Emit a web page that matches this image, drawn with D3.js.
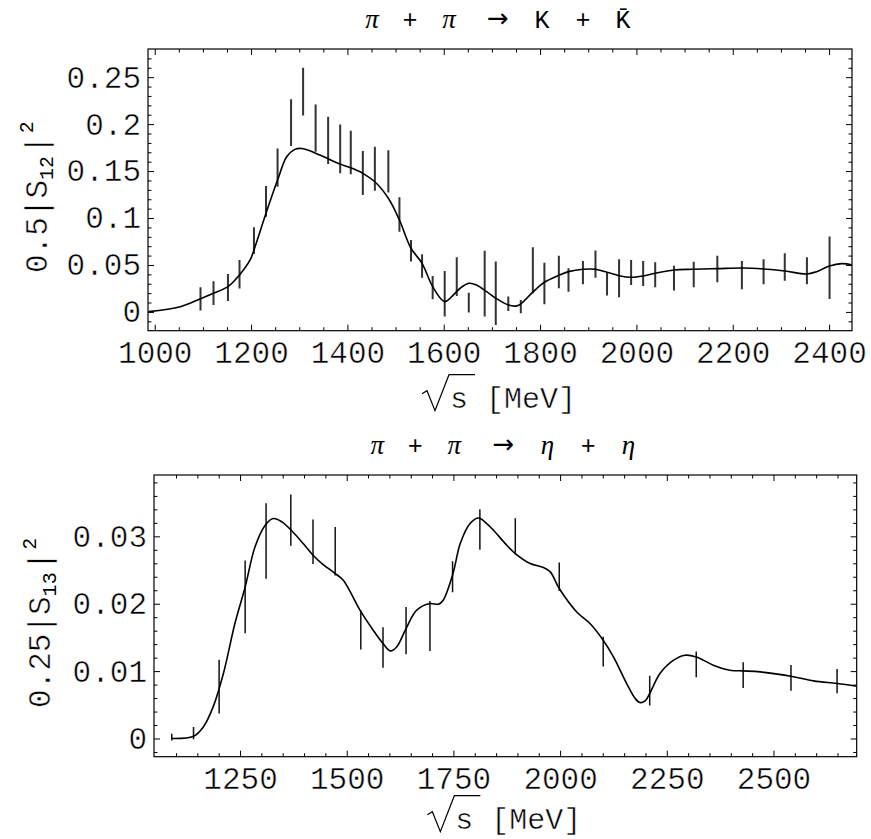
<!DOCTYPE html>
<html><head><meta charset="utf-8">
<script src="https://cdn.jsdelivr.net/npm/d3@7"></script>
<style>
body{margin:0;background:#fff}
text{font-family:"Liberation Mono",monospace;fill:#000}
.thin text, text.thin{stroke:#fff;stroke-width:0.5px;paint-order:fill}
tspan.nothin{stroke:none}
</style>
</head><body>
<svg id="c" width="871" height="839" xmlns="http://www.w3.org/2000/svg"></svg>
<script>
// ---------- Panel 1: pi pi -> K Kbar ----------
const kkDataX = [1095,1122,1152,1176,1206,1231,1255,1283,1308,1334,1360,1385,1407,1432,1457,1485,1508,1532,1555,1577,1602,1627,1652,1685,1708,1734,1760,1785,1809,1839,1859,1889,1915,1939,1964,1989,2014,2039,2078,2119,2168,2219,2264,2308,2354,2401];
const kkDataY = [.0138,.0200,.0261,.0401,.0759,.1177,.1537,.2016,.2346,.1957,.1826,.1736,.1697,.1479,.1525,.1498,.1037,.0651,.0489,.0259,.0193,.0376,.0099,.0301,.0199,.0087,.0056,.0444,.0303,.0426,.0340,.0418,.0509,.0298,.0359,.0420,.0410,.0396,.0360,.0399,.0457,.0392,.0428,.0479,.0438,.0470];
const kkDataErr = [.0124,.0126,.0144,.0152,.0142,.0163,.0204,.0250,.0253,.0252,.0252,.0260,.0232,.0234,.0234,.0225,.0183,.0115,.0124,.0124,.0243,.0206,.0106,.0351,.0337,.0076,.0071,.0245,.0221,.0173,.0124,.0124,.0144,.0124,.0202,.0133,.0133,.0133,.0133,.0136,.0142,.0151,.0133,.0146,.0144,.0332];
const kkFitX = [987,1053,1095,1122,1152,1176,1198,1206,1231,1255,1274,1291,1305,1322,1343,1360,1385,1407,1432,1457,1485,1508,1532,1555,1577,1602,1620,1634,1652,1668,1689,1708,1734,1752,1760,1786,1809,1839,1859,1889,1915,1939,1964,1989,2014,2039,2078,2119,2168,2219,2264,2308,2354,2374,2401,2426,2447];
const kkFitY = [.0003,.0056,.0141,.0199,.0269,.0394,.0553,.0660,.1050,.1404,.1652,.1731,.1741,.1716,.1670,.1631,.1574,.1535,.1476,.1386,.1210,.0979,.0678,.0518,.0269,.0110,.0181,.0252,.0305,.0287,.0216,.0146,.0074,.0064,.0085,.0216,.0316,.0390,.0429,.0454,.0454,.0422,.0386,.0369,.0383,.0412,.0447,.0454,.0461,.0468,.0457,.0436,.0404,.0429,.0489,.0514,.0503];
const kkXTicks = [1000,1200,1400,1600,1800,2000,2200,2400];
const kkXTickLabels = ["1000","1200","1400","1600","1800","2000","2200","2400"];
const kkYTicks = [0,0.05,0.1,0.15,0.2,0.25];
const kkYTickLabels = ["0","0.05","0.1","0.15","0.2","0.25"];

// ---------- Panel 2: pi pi -> eta eta ----------
const eeDataX = [1090,1141,1201,1262,1311,1369,1421,1473,1533,1585,1639,1695,1748,1812,1895,1998,2101,2210,2319,2429,2541,2649];
const eeDataY = [.0002,.0008,.0077,.0210,.0293,.0324,.0292,.0278,.0161,.0135,.0160,.0167,.0240,.0310,.0300,.0240,.0129,.0071,.0110,.0094,.0090,.0085];
const eeDataErr = [.0005,.0009,.0040,.0054,.0056,.0038,.0033,.0036,.0029,.0030,.0035,.0037,.0023,.0030,.0027,.0021,.0022,.0022,.0019,.0019,.0019,.0018];
const eeFitX = [1090,1141,1164,1187,1211,1238,1262,1285,1309,1328,1348,1370,1398,1421,1442,1473,1492,1531,1562,1585,1602,1617,1639,1664,1695,1715,1726,1749,1766,1789,1809,1828,1844,1875,1895,1930,1961,1977,1998,2039,2070,2101,2125,2156,2176,2187,2199,2210,2234,2266,2293,2319,2359,2398,2429,2469,2541,2594,2649,2695];
const eeFitY = [0,.00034,.00172,.00469,.00964,.01706,.02249,.02843,.03165,.03264,.03214,.0309,.02893,.0272,.02596,.02448,.02349,.01904,.01607,.0141,.0130,.01359,.01632,.01904,.02003,.01993,.02052,.02448,.02893,.0319,.03273,.0319,.0309,.02868,.02745,.02596,.02537,.02472,.02226,.01878,.01706,.01458,.01211,.00816,.00593,.00534,.00558,.00668,.00964,.01162,.01236,.01211,.01088,.01013,.01003,.00988,.00924,.00855,.00816,.00776];
const eeXTicks = [1250,1500,1750,2000,2250,2500];
const eeXTickLabels = ["1250","1500","1750","2000","2250","2500"];
const eeYTicks = [0,0.01,0.02,0.03];
const eeYTickLabels = ["0","0.01","0.02","0.03"];

const svg = d3.select('#c');
const FONT = '"Liberation Mono", monospace';
const TICKFS = 31;

function panel(cfg) {
  const x = d3.scaleLinear().domain(cfg.xDomain).range([cfg.left, cfg.right]);
  const y = d3.scaleLinear().domain(cfg.yDomain).range([cfg.bottom, cfg.top]);
  const g = svg.append('g');
  const clipId = 'clip' + cfg.id;
  svg.append('clipPath').attr('id', clipId).append('rect')
    .attr('x', cfg.left).attr('y', cfg.top)
    .attr('width', cfg.right - cfg.left).attr('height', cfg.bottom - cfg.top);

  const minorX = d3.range(cfg.xMinor[0], cfg.xMinor[1] + 1e-9, cfg.xMinor[2]).filter(v => !cfg.xTicks.some(t => Math.abs(t - v) < 1e-6));
  const minorY = d3.range(cfg.yMinor[0], cfg.yMinor[1] + 1e-12, cfg.yMinor[2]).filter(v => !cfg.yTicks.some(t => Math.abs(t - v) < 1e-9));

  function ax(axisGen, tx, ty, vals, size, labels) {
    const a = axisGen.tickValues(vals).tickSize(size).tickPadding(cfg.pad);
    a.tickFormat(labels ? ((d) => labels[vals.indexOf(d)]) : (() => ''));
    const gg = g.append('g').attr('transform', `translate(${tx},${ty})`).call(a);
    gg.select('.domain').remove();
    gg.attr('font-family', FONT).attr('font-size', TICKFS).attr('class', 'thin');
    gg.selectAll('line').attr('stroke', '#000').attr('stroke-width', 1);
    return gg;
  }
  const MAJ = -6, MIN = -3.5;
  ax(d3.axisBottom(x), 0, cfg.bottom, cfg.xTicks, MAJ, cfg.xLabels);
  ax(d3.axisBottom(x), 0, cfg.bottom, minorX, MIN, null);
  ax(d3.axisTop(x), 0, cfg.top, cfg.xTicks, MAJ, null);
  ax(d3.axisTop(x), 0, cfg.top, minorX, MIN, null);
  const la = ax(d3.axisLeft(y), cfg.left, 0, cfg.yTicks, MAJ, cfg.yLabels);
  la.selectAll('text').attr('x', -cfg.ypad);
  ax(d3.axisLeft(y), cfg.left, 0, minorY, MIN, null);
  ax(d3.axisRight(y), cfg.right, 0, cfg.yTicks, MAJ, null);
  ax(d3.axisRight(y), cfg.right, 0, minorY, MIN, null);

  // frame
  g.append('rect').attr('x', cfg.left).attr('y', cfg.top)
    .attr('width', cfg.right - cfg.left).attr('height', cfg.bottom - cfg.top)
    .attr('fill', 'none').attr('stroke', '#000').attr('stroke-width', 1.2);

  const plot = g.append('g').attr('clip-path', `url(#${clipId})`);
  // error bars
  plot.selectAll('line.err').data(cfg.dx.map((d, i) => ({x: d, y: cfg.dy[i], e: cfg.de[i]})))
    .join('line').attr('class', 'err')
    .attr('x1', d => x(d.x)).attr('x2', d => x(d.x))
    .attr('y1', d => y(d.y - d.e)).attr('y2', d => y(d.y + d.e))
    .attr('stroke', cfg.errColor).attr('stroke-width', cfg.errWidth);
  // fit curve
  const line = d3.line().x(d => x(d[0])).y(d => y(d[1])).curve(d3.curveCatmullRom.alpha(0.5));
  plot.append('path').datum(cfg.fx.map((d, i) => [d, cfg.fy[i]]))
    .attr('d', line).attr('fill', 'none').attr('stroke', '#000').attr('stroke-width', 1.6);

  // x axis title: sqrt(s) [MeV]
  const cx = (cfg.left + cfg.right) / 2 - 3;
  const base = cfg.bottom + cfg.xtOff;
  const x0 = cx - 75;
  g.append('path')
    .attr('d', `M${x0},${base - 14} L${x0 + 5},${base - 17} L${x0 + 13},${base + 3} L${x0 + 27},${base - 33} L${x0 + 53},${base - 33}`)
    .attr('fill', 'none').attr('stroke', '#000').attr('stroke-width', 1.2);
  g.append('text').attr('x', x0 + 28).attr('y', base).attr('class', 'thin')
    .attr('font-size', 30).attr('xml:space', 'preserve').style('white-space', 'pre')
    .text('s [MeV]');

  // title
  const tb = cfg.top - 21;
  const tcx = (cfg.left + cfg.right) / 2 - 2;
  const offs = [-126, -88, -49, 0, 44, 85, 125];
  cfg.title.forEach((tok, i) => {
    const t = g.append('text').attr('x', tcx + offs[i]).attr('y', tb).attr('text-anchor', 'middle');
    if (tok.greek) t.style('font-family', '"Liberation Serif", serif').style('font-style', 'italic').attr('font-size', 27);
    else if (tok.arrow) t.style('font-family', '"DejaVu Sans", sans-serif').attr('font-size', 26).attr('y', tb - 1);
    else t.attr('font-size', 25);
    t.text(tok.s);
  });

  // y axis title
  const yt = g.append('text').attr('transform', `translate(${cfg.ytx},${cfg.yty}) rotate(-90)`)
    .attr('font-size', 31).attr('class', 'thin').attr('xml:space', 'preserve').style('white-space', 'pre');
  yt.append('tspan').text(cfg.yPre + '|S');
  yt.append('tspan').attr('class', 'nothin').attr('font-size', 20).attr('dy', 6).text(cfg.ySub);
  yt.append('tspan').attr('dy', -6).attr('dx', 2).text('|');
  yt.append('tspan').attr('class', 'nothin').attr('font-size', 20).attr('dy', -14).attr('dx', 2).text('2');
}

panel({
  id: 1, left: 148, right: 852, top: 49, bottom: 330.7,
  xDomain: [986, 2447.6], yDomain: [-0.02, 0.28],
  xTicks: kkXTicks, xLabels: kkXTickLabels, yTicks: kkYTicks, yLabels: kkYTickLabels,
  xMinor: [1000, 2400, 50], yMinor: [-0.01, 0.27, 0.01],
  pad: 10, ypad: 7, xtOff: 77,
  dx: kkDataX, dy: kkDataY, de: kkDataErr, fx: kkFitX, fy: kkFitY,
  errColor: '#333', errWidth: 2,
  title: [{s:'π',greek:1},{s:'+'},{s:'π',greek:1},{s:'→',arrow:1},{s:'K'},{s:'+'},{s:'K\u0304'}],
  yPre: '0.5', ySub: '12', ytx: 47, yty: 273
});

panel({
  id: 2, left: 154, right: 856.7, top: 475, bottom: 756.7,
  xDomain: [1048.4, 2695], yDomain: [-0.0027, 0.0391],
  xTicks: eeXTicks, xLabels: eeXTickLabels, yTicks: eeYTicks, yLabels: eeYTickLabels,
  xMinor: [1100, 2650, 50], yMinor: [-0.002, 0.038, 0.002],
  pad: 10, ypad: 7, xtOff: 72,
  dx: eeDataX, dy: eeDataY, de: eeDataErr, fx: eeFitX, fy: eeFitY,
  errColor: '#111', errWidth: 1.5,
  title: [{s:'π',greek:1},{s:'+'},{s:'π',greek:1},{s:'→',arrow:1},{s:'η',greek:1},{s:'+'},{s:'η',greek:1}],
  yPre: '0.25', ySub: '13', ytx: 50, yty: 708
});
</script>
</body></html>
